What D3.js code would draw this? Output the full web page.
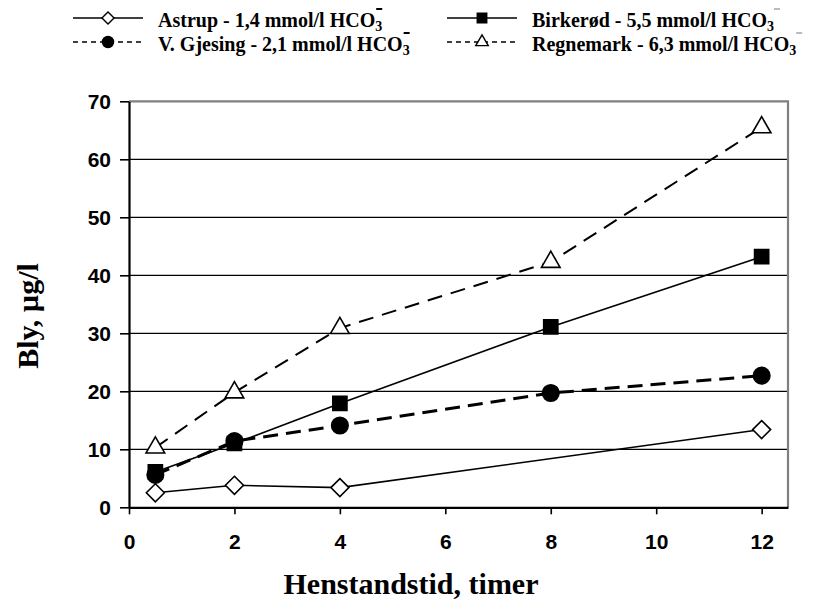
<!DOCTYPE html>
<html>
<head>
<meta charset="utf-8">
<script src="https://cdn.jsdelivr.net/npm/d3@7"></script>
<style>
  html, body { margin: 0; padding: 0; background: #fff; }
  svg { display: block; }
</style>
</head>
<body>
<svg id="chart" width="824" height="608"></svg>
<script>
// Lead (bly) concentration in standing water vs. standing time, four waterworks
const hoursFull   = [0.5, 2, 4, 8, 12];
const hoursAstrup = [0.5, 2, 4, 12];
const astrup    = [2.5, 3.8, 3.4, 13.4];
const gjesing   = [5.6, 11.4, 14.1, 19.7, 22.7];
const birkerod  = [6.1, 11.0, 17.9, 31.1, 43.2];
const regnemark = [10.3, 19.8, 30.9, 42.3, 65.5];

const xTicks = [0, 2, 4, 6, 8, 10, 12];
const yTicks = [0, 10, 20, 30, 40, 50, 60, 70];

const seriesNames = [
  "Astrup - 1,4 mmol/l HCO",
  "V. Gjesing - 2,1 mmol/l HCO",
  "Birkerød - 5,5 mmol/l HCO",
  "Regnemark - 6,3 mmol/l HCO"
];

// square diamond (rotated square), as in spreadsheet charts
const symbolSquareDiamond = {
  draw(ctx, size) {
    const r = Math.sqrt(size / 2);
    ctx.moveTo(0, -r);
    ctx.lineTo(r, 0);
    ctx.lineTo(0, r);
    ctx.lineTo(-r, 0);
    ctx.closePath();
  }
};

const series = [
  { name: seriesNames[0], hours: hoursAstrup, values: astrup,    symbol: symbolSquareDiamond, size: 162, fill: "#fff", dash: null,   width: 1.6, legendDash: null,  legend: [73, 18],  bar: "#000" },
  { name: seriesNames[1], hours: hoursFull,   values: gjesing,   symbol: d3.symbolCircle,     size: 215, fill: "#000", dash: "15,8", width: 3,   legendDash: "5,4", legend: [73, 42],  bar: "#000" },
  { name: seriesNames[2], hours: hoursFull,   values: birkerod,  symbol: d3.symbolSquare,     size: 200, fill: "#000", dash: null,   width: 1.6, legendDash: null,  legend: [447, 18], bar: "#bbb" },
  { name: seriesNames[3], hours: hoursFull,   values: regnemark, symbol: d3.symbolTriangle,   size: 150, fill: "#fff", dash: "15,9", width: 2,   legendDash: "5,4", legend: [447, 42], bar: "#bbb" }
];

const svg = d3.select("#chart");
const plotLeft = 129, plotRight = 788, plotTop = 101.3, plotBottom = 507.3;

const x = d3.scaleLinear().domain([0, 12.5]).range([plotLeft, plotRight]);
const y = d3.scaleLinear().domain([0, 70]).range([plotBottom, plotTop]);

// horizontal gridlines
svg.append("g").selectAll("line")
  .data(yTicks.filter(v => v > 0 && v < 70))
  .join("line")
  .attr("x1", plotLeft).attr("x2", plotRight)
  .attr("y1", d => y(d)).attr("y2", d => y(d))
  .attr("stroke", "#000").attr("stroke-width", 1.2);

// plot frame: top and right in grey
svg.append("path")
  .attr("d", `M${plotLeft},${plotTop}H${plotRight}V${plotBottom}`)
  .attr("fill", "none").attr("stroke", "#808080").attr("stroke-width", 2.2);

// axes
const yAxis = svg.append("g")
  .attr("transform", `translate(${plotLeft},0)`)
  .call(d3.axisLeft(y).tickValues(yTicks).tickSize(9).tickSizeOuter(0).tickPadding(9));
const xAxis = svg.append("g")
  .attr("transform", `translate(0,${plotBottom})`)
  .call(d3.axisBottom(x).tickValues(xTicks).tickSize(7).tickSizeOuter(0).tickPadding(20));

[yAxis, xAxis].forEach(g => {
  g.select(".domain").attr("stroke", "#000").attr("stroke-width", 2.2);
  g.selectAll(".tick line").attr("stroke", "#000").attr("stroke-width", 1.6);
  g.selectAll(".tick text")
    .attr("font-family", "'Liberation Sans', Arial, sans-serif")
    .attr("font-weight", "bold").attr("font-size", 21).attr("fill", "#000");
});
yAxis.selectAll(".tick text").attr("dy", "0.36em");
xAxis.selectAll(".tick text").attr("dy", "0.68em");

// series lines and markers
const line = d3.line().x(d => x(d[0])).y(d => y(d[1]));
series.forEach(s => {
  const pts = s.hours.map((h, i) => [h, s.values[i]]);
  svg.append("path")
    .datum(pts)
    .attr("d", line)
    .attr("fill", "none").attr("stroke", "#000")
    .attr("stroke-width", s.width)
    .attr("stroke-dasharray", s.dash);
});
series.forEach(s => {
  const pts = s.hours.map((h, i) => [h, s.values[i]]);
  svg.append("g").selectAll("path")
    .data(pts)
    .join("path")
    .attr("transform", d => `translate(${x(d[0])},${y(d[1])})`)
    .attr("d", d3.symbol(s.symbol, s.size))
    .attr("fill", s.fill).attr("stroke", "#000").attr("stroke-width", 1.6);
});

// legend
const serif = "'Liberation Serif', 'Times New Roman', serif";
series.forEach(s => {
  const [lx, ly] = s.legend;
  const g = svg.append("g");
  g.append("line")
    .attr("x1", lx).attr("x2", lx + 70).attr("y1", ly).attr("y2", ly)
    .attr("stroke", "#000").attr("stroke-width", 1.6)
    .attr("stroke-dasharray", s.legendDash);
  g.append("path")
    .attr("transform", `translate(${lx + 35},${ly})`)
    .attr("d", d3.symbol(s.symbol, s.size * 0.45))
    .attr("fill", s.fill).attr("stroke", "#000").attr("stroke-width", 1.4);
  const t = g.append("text")
    .attr("x", lx + 85).attr("y", ly + 9)
    .attr("font-family", serif).attr("font-weight", "bold")
    .attr("font-size", 20).attr("fill", "#000")
    .text(s.name);
  const w = t.node().getComputedTextLength();
  g.append("text")
    .attr("x", lx + 85 + w).attr("y", ly + 13)
    .attr("font-family", serif).attr("font-weight", "bold")
    .attr("font-size", 14).attr("fill", "#000")
    .text("3");
  g.append("line")
    .attr("x1", lx + 85 + w + (s.bar === "#000" ? 1 : 7))
    .attr("x2", lx + 85 + w + (s.bar === "#000" ? 7 : 13))
    .attr("y1", ly - 9).attr("y2", ly - 9)
    .attr("stroke", s.bar).attr("stroke-width", 2);
});

// axis titles
svg.append("text")
  .attr("x", 411).attr("y", 594)
  .attr("text-anchor", "middle")
  .attr("font-family", serif).attr("font-weight", "bold")
  .attr("font-size", 30).attr("fill", "#000")
  .text("Henstandstid, timer");

svg.append("text")
  .attr("transform", "translate(38,316) rotate(-90)")
  .attr("text-anchor", "middle")
  .attr("font-family", serif).attr("font-weight", "bold")
  .attr("font-size", 30).attr("fill", "#000")
  .text("Bly, µg/l");
</script>
</body>
</html>
